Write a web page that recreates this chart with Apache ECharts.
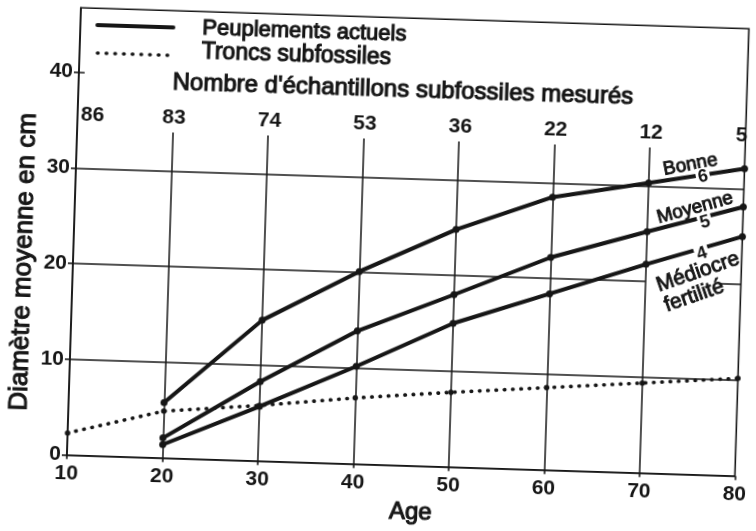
<!DOCTYPE html>
<html>
<head>
<meta charset="utf-8">
<script src="https://cdn.jsdelivr.net/npm/echarts@6/dist/echarts.min.js"></script>
<style>
html,body{margin:0;padding:0;background:#fff;overflow:hidden;}
#chart{width:756px;height:531px;transform:rotate(1.8deg);transform-origin:50% 50%;}
</style>
</head>
<body>
<div id="chart"></div>
<script>
// ---- data ----
const ages = [20, 30, 40, 50, 60, 70, 80];
const bonne = [5.8, 14.7, 20.1, 24.8, 28.5, 30.3, 32.1];
const moyenne = [2.1, 8.3, 13.9, 18.0, 22.2, 25.2, 28.1];
const mediocre = [1.4, 5.7, 10.2, 15.0, 18.4, 21.8, 25.0];
const fossilAges = [10, 20, 30, 40, 50, 60, 70, 80];
const fossil = [2.3, 4.9, 5.8, 6.9, 7.8, 8.6, 9.4, 10.2];
const countAges = [10, 20, 30, 40, 50, 60, 70, 80];
const counts = [86, 83, 74, 53, 36, 22, 12, 5];
const xTicks = [10, 20, 30, 40, 50, 60, 70, 80];
const yTicks = [0, 10, 20, 30, 40];
const gridValues = [10, 20, 30];
const verticalAges = [20, 30, 40, 50, 60, 70];

const INK = '#161616';
const FONT = "'Liberation Sans', Arial, sans-serif";

const zip = (xs, ys) => xs.map((x, i) => [x, ys[i]]);

const gridLines = [];
gridValues.forEach(v => {
  if (v === 20) {
    gridLines.push([{coord: [10, v]}, {coord: [70, v]}]);
    gridLines.push([{coord: [77.8, v]}, {coord: [80, v]}]);
  } else {
    gridLines.push([{coord: [10, v]}, {coord: [80, v]}]);
  }
});
verticalAges.forEach(a => gridLines.push([{coord: [a, 0]}, {coord: [a, 34]}]));
gridLines.push([{coord: [10, 40]}, {coord: [10.6, 40]}]);

const chart = echarts.init(document.getElementById('chart'), null, {renderer: 'canvas'});

const solidSeries = (name, vals) => ({
  name, type: 'line', data: zip(ages, vals), z: 5,
  symbol: 'circle', symbolSize: 7, showSymbol: true,
  lineStyle: {color: INK, width: 4, cap: 'round'},
  itemStyle: {color: INK},
  animation: false, silent: true
});

const numLabel = {color: INK, fontFamily: FONT, fontSize: 21, fontWeight: 'bold'};
const txt = (text, x, y, size, extra) => Object.assign({
  type: 'text', x, y,
  style: Object.assign({text, font: size + "px " + FONT, fill: INK, stroke: INK, lineWidth: 1.1, align: 'left', verticalAlign: 'middle'}, extra && extra.style)
}, extra && extra.el);

chart.setOption({
  animation: false,
  grid: {left: 73, right: 6, top: 17.3, bottom: 66.3, show: true, borderColor: INK, borderWidth: 1.6, backgroundColor: 'transparent'},
  xAxis: {
    type: 'value', min: 10, max: 80, interval: 10,
    axisLine: {show: true, lineStyle: {color: INK, width: 1.6}},
    axisTick: {show: true, length: 4, lineStyle: {color: INK, width: 1.6}},
    splitLine: {show: false},
    axisLabel: Object.assign({margin: 8, customValues: xTicks}, numLabel)
  },
  yAxis: {
    type: 'value', min: 0, max: 46.7,
    axisLine: {show: true, lineStyle: {color: INK, width: 1.6}},
    axisTick: {show: true, length: 5, lineStyle: {color: INK, width: 1.6}, customValues: yTicks},
    splitLine: {show: false},
    axisLabel: Object.assign({margin: 6, customValues: yTicks}, numLabel)
  },
  series: [
    {
      type: 'line', data: [], silent: true,
      markLine: {
        silent: true, symbol: 'none', animation: false,
        label: {show: false},
        lineStyle: {color: INK, width: 1.5, type: 'solid'},
        emphasis: {disabled: true},
        data: gridLines
      }
    },
    solidSeries('Bonne', bonne),
    solidSeries('Moyenne', moyenne),
    solidSeries('Médiocre', mediocre),
    {
      name: 'Troncs subfossiles', type: 'line', data: zip(fossilAges, fossil), z: 4,
      symbol: 'circle', symbolSize: 5.5,
      lineStyle: {color: INK, width: 3.6, type: [0.5, 7.8], cap: 'round'},
      itemStyle: {color: INK}, silent: true
    },
    {
      name: 'Nombre', type: 'scatter', symbolSize: 0, silent: true,
      itemStyle: {opacity: 1, color: INK},
      data: countAges.map((a) => ({
        value: [a, 35.5],
        label: {offset: [a === 10 ? 15 : (a === 80 ? -4 : 1), 0]}
      })),
      label: Object.assign({
        show: true, position: 'inside', textBorderWidth: 0, opacity: 1,
        formatter: p => String(counts[p.dataIndex])
      }, numLabel)
    }
  ],
  graphic: [
    {type: 'line', shape: {x1: 90, y1: 34, x2: 166, y2: 34}, style: {stroke: INK, lineWidth: 4, lineCap: 'round'}},
    {type: 'line', shape: {x1: 91, y1: 62, x2: 167, y2: 62}, style: {stroke: INK, lineWidth: 3.6, lineCap: 'round', lineDash: [0.5, 8.2]}},
    txt('Peuplements actuels', 195, 34, 22),
    txt('Troncs subfossiles', 195, 58, 23),
    txt("Nombre d'échantillons subfossiles mesurés", 167, 89, 24),
    txt('Diamètre moyenne en cm', 24, 273, 26, {el: {rotation: Math.PI / 2}, style: {align: 'center'}}),
    txt('Age', 418, 511, 24, {style: {align: 'center'}}),
    txt('Bonne', 687, 155, 19, {el: {rotation: 12.4 * Math.PI / 180}, style: {align: 'center', lineWidth: 0.9}}),
    txt('6', 700, 166.5, 18, {el: {rotation: 12.4 * Math.PI / 180, z: 10}, style: {align: 'center', font: "bold 18px " + FONT, lineWidth: 0, backgroundColor: '#fff', padding: [0, 2]}}),
    txt('Moyenne', 693, 198, 19, {el: {rotation: 17.1 * Math.PI / 180}, style: {align: 'center', lineWidth: 0.9}}),
    txt('5', 703.5, 212, 18, {el: {rotation: 17.1 * Math.PI / 180, z: 10}, style: {align: 'center', font: "bold 18px " + FONT, lineWidth: 0, backgroundColor: '#fff', padding: [0, 2]}}),
    txt('4', 701.5, 243.5, 18, {el: {rotation: 20.8 * Math.PI / 180, z: 10}, style: {align: 'center', font: "bold 18px " + FONT, lineWidth: 0, backgroundColor: '#fff', padding: [0, 2]}}),
    txt('Médiocre', 698, 262, 21, {el: {rotation: 20.8 * Math.PI / 180}, style: {align: 'center', lineWidth: 0.9}}),
    txt('fertilité', 695, 286, 21, {el: {rotation: 20.8 * Math.PI / 180}, style: {align: 'center', lineWidth: 0.9}})
  ]
});
</script>
</body>
</html>
